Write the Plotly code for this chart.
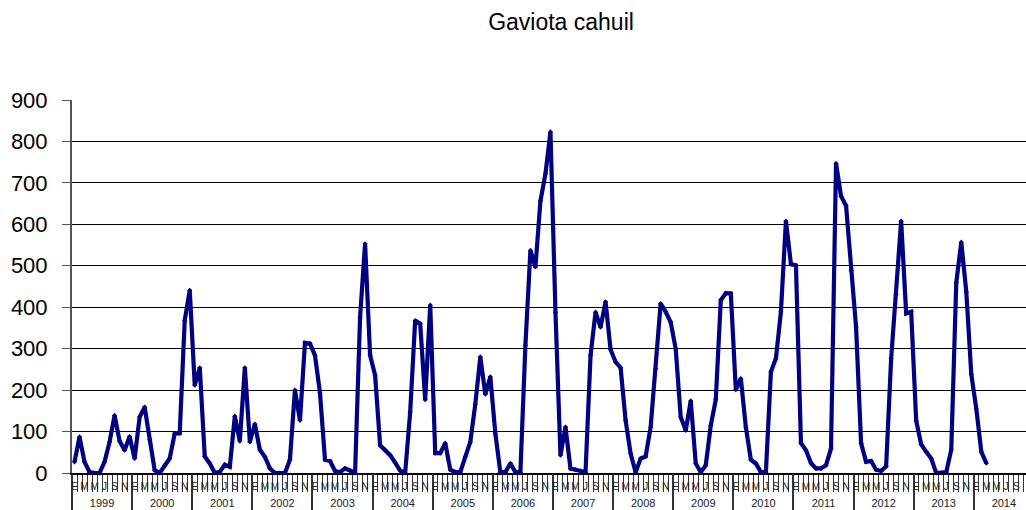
import plotly.graph_objects as go

title = "Gaviota cahuil"
years = [1999, 2000, 2001, 2002, 2003, 2004, 2005, 2006, 2007,
         2008, 2009, 2010, 2011, 2012, 2013, 2014]
month_letters = ["E", "F", "M", "A", "M", "J", "J", "A", "S", "O", "N", "D"]

v1999 = [27, 87, 27, 2, 0, 0, 27, 75, 139, 77, 55, 88]
v2000 = [35, 135, 159, 80, 7, 0, 19, 35, 95, 96, 368, 441]
v2001 = [212, 254, 40, 23, 0, 3, 20, 15, 137, 77, 254, 75]
v2002 = [118, 56, 39, 11, 0, 0, 0, 32, 200, 127, 314, 312]
v2003 = [284, 193, 32, 29, 5, 2, 11, 6, 0, 376, 553, 284]
v2004 = [236, 67, 55, 43, 25, 6, 0, 147, 368, 360, 177, 405]
v2005 = [48, 48, 72, 8, 2, 2, 39, 75, 166, 280, 190, 232]
v2006 = [95, 2, 2, 23, 2, 2, 308, 537, 497, 656, 722, 823]
v2007 = [388, 43, 111, 11, 8, 5, 2, 284, 388, 352, 413, 298]
v2008 = [268, 254, 127, 47, 2, 35, 40, 111, 252, 409, 389, 364]
v2009 = [300, 135, 103, 174, 23, 2, 19, 115, 177, 417, 434, 433]
v2010 = [201, 228, 111, 32, 23, 2, 2, 244, 276, 389, 608, 504]
v2011 = [501, 72, 55, 24, 11, 11, 19, 59, 747, 668, 645, 489]
v2012 = [352, 72, 27, 29, 8, 5, 16, 276, 431, 608, 385, 389]
v2013 = [126, 69, 51, 35, 0, 0, 2, 56, 459, 557, 437, 238]
v2014 = [155, 51, 24]

series = [v1999, v2000, v2001, v2002, v2003, v2004, v2005, v2006,
          v2007, v2008, v2009, v2010, v2011, v2012, v2013, v2014]

values = [v for yr in series for v in yr]
xs = list(range(len(values)))
n_cats = len(years) * 12

FONT = "Arial, Liberation Sans, sans-serif"
NAVY = "#000080"

fig = go.Figure()
fig.add_trace(go.Scatter(
    x=xs, y=values, mode="lines+markers",
    line=dict(color=NAVY, width=4.2),
    marker=dict(color=NAVY, size=4, symbol="diamond"),
    showlegend=False, hoverinfo="skip", cliponaxis=False,
))

x_range = [-0.5, -0.5 + 954 / 5.01]

month_bounds = [k - 0.5 for k in range(n_cats + 1)]
year_bounds = [12 * k - 0.5 for k in range(len(years) + 1)]
month_label_pos = [k for k in range(n_cats) if k % 2 == 0]
month_label_txt = [month_letters[k % 12] for k in month_label_pos]
year_centers = [12 * k + 5.5 for k in range(len(years))]

common = dict(range=x_range, showgrid=False, zeroline=False, tickmode="array",
              automargin=False)

fig.update_layout(
    width=1026, height=510,
    paper_bgcolor="white", plot_bgcolor="white",
    margin=dict(l=72, r=0, t=100, b=37, autoexpand=False),
    font=dict(family=FONT, color="black"),
    title=dict(text=title, x=561 / 1026, xanchor="center",
               y=1 - 22 / 510, yanchor="middle",
               font=dict(family=FONT, size=23, color="black"),
               automargin=False),
    xaxis=dict(**common, tickvals=month_bounds, ticks="outside", ticklen=17,
               tickwidth=1, tickcolor="#333333", showticklabels=False,
               showline=True, linecolor="black", linewidth=1.5),
    xaxis2=dict(**common, overlaying="x", side="bottom", tickvals=year_bounds,
                ticks="outside", ticklen=40, tickwidth=1.5, tickcolor="#333333",
                showticklabels=False, showline=False),
    xaxis3=dict(**common, overlaying="x", side="bottom", tickvals=month_label_pos,
                ticktext=month_label_txt, ticks="outside", ticklen=4,
                tickcolor="rgba(0,0,0,0)", tickangle=0,
                tickfont=dict(family=FONT, size=10, color="#222222"),
                showline=False),
    xaxis4=dict(**common, overlaying="x", side="bottom", tickvals=year_centers,
                ticktext=[str(y) for y in years], ticks="outside", ticklen=20,
                tickcolor="rgba(0,0,0,0)", tickangle=0,
                tickfont=dict(family=FONT, size=11, color="#222222"),
                showline=False),
    yaxis=dict(range=[0, 900], tickmode="linear", tick0=0, dtick=100,
               showgrid=True, gridcolor="black", gridwidth=1,
               zeroline=False, showline=True, linecolor="#555555", linewidth=2,
               ticks="outside", ticklen=8, tickcolor="#555555",
               ticklabelstandoff=10, automargin=False,
               tickfont=dict(family=FONT, size=22, color="black")),
)

# invisible traces so the overlay axes are laid out
for ax in ["x2", "x3", "x4"]:
    fig.add_trace(go.Scatter(x=[x_range[0]], y=[None], xaxis=ax, yaxis="y",
                             showlegend=False, hoverinfo="skip"))

fig.write_html(
    "out.html",
    config={"displayModeBar": False},
    post_script="document.body.style.margin='0';document.body.style.padding='0';"
                "document.body.style.overflow='hidden';",
)
